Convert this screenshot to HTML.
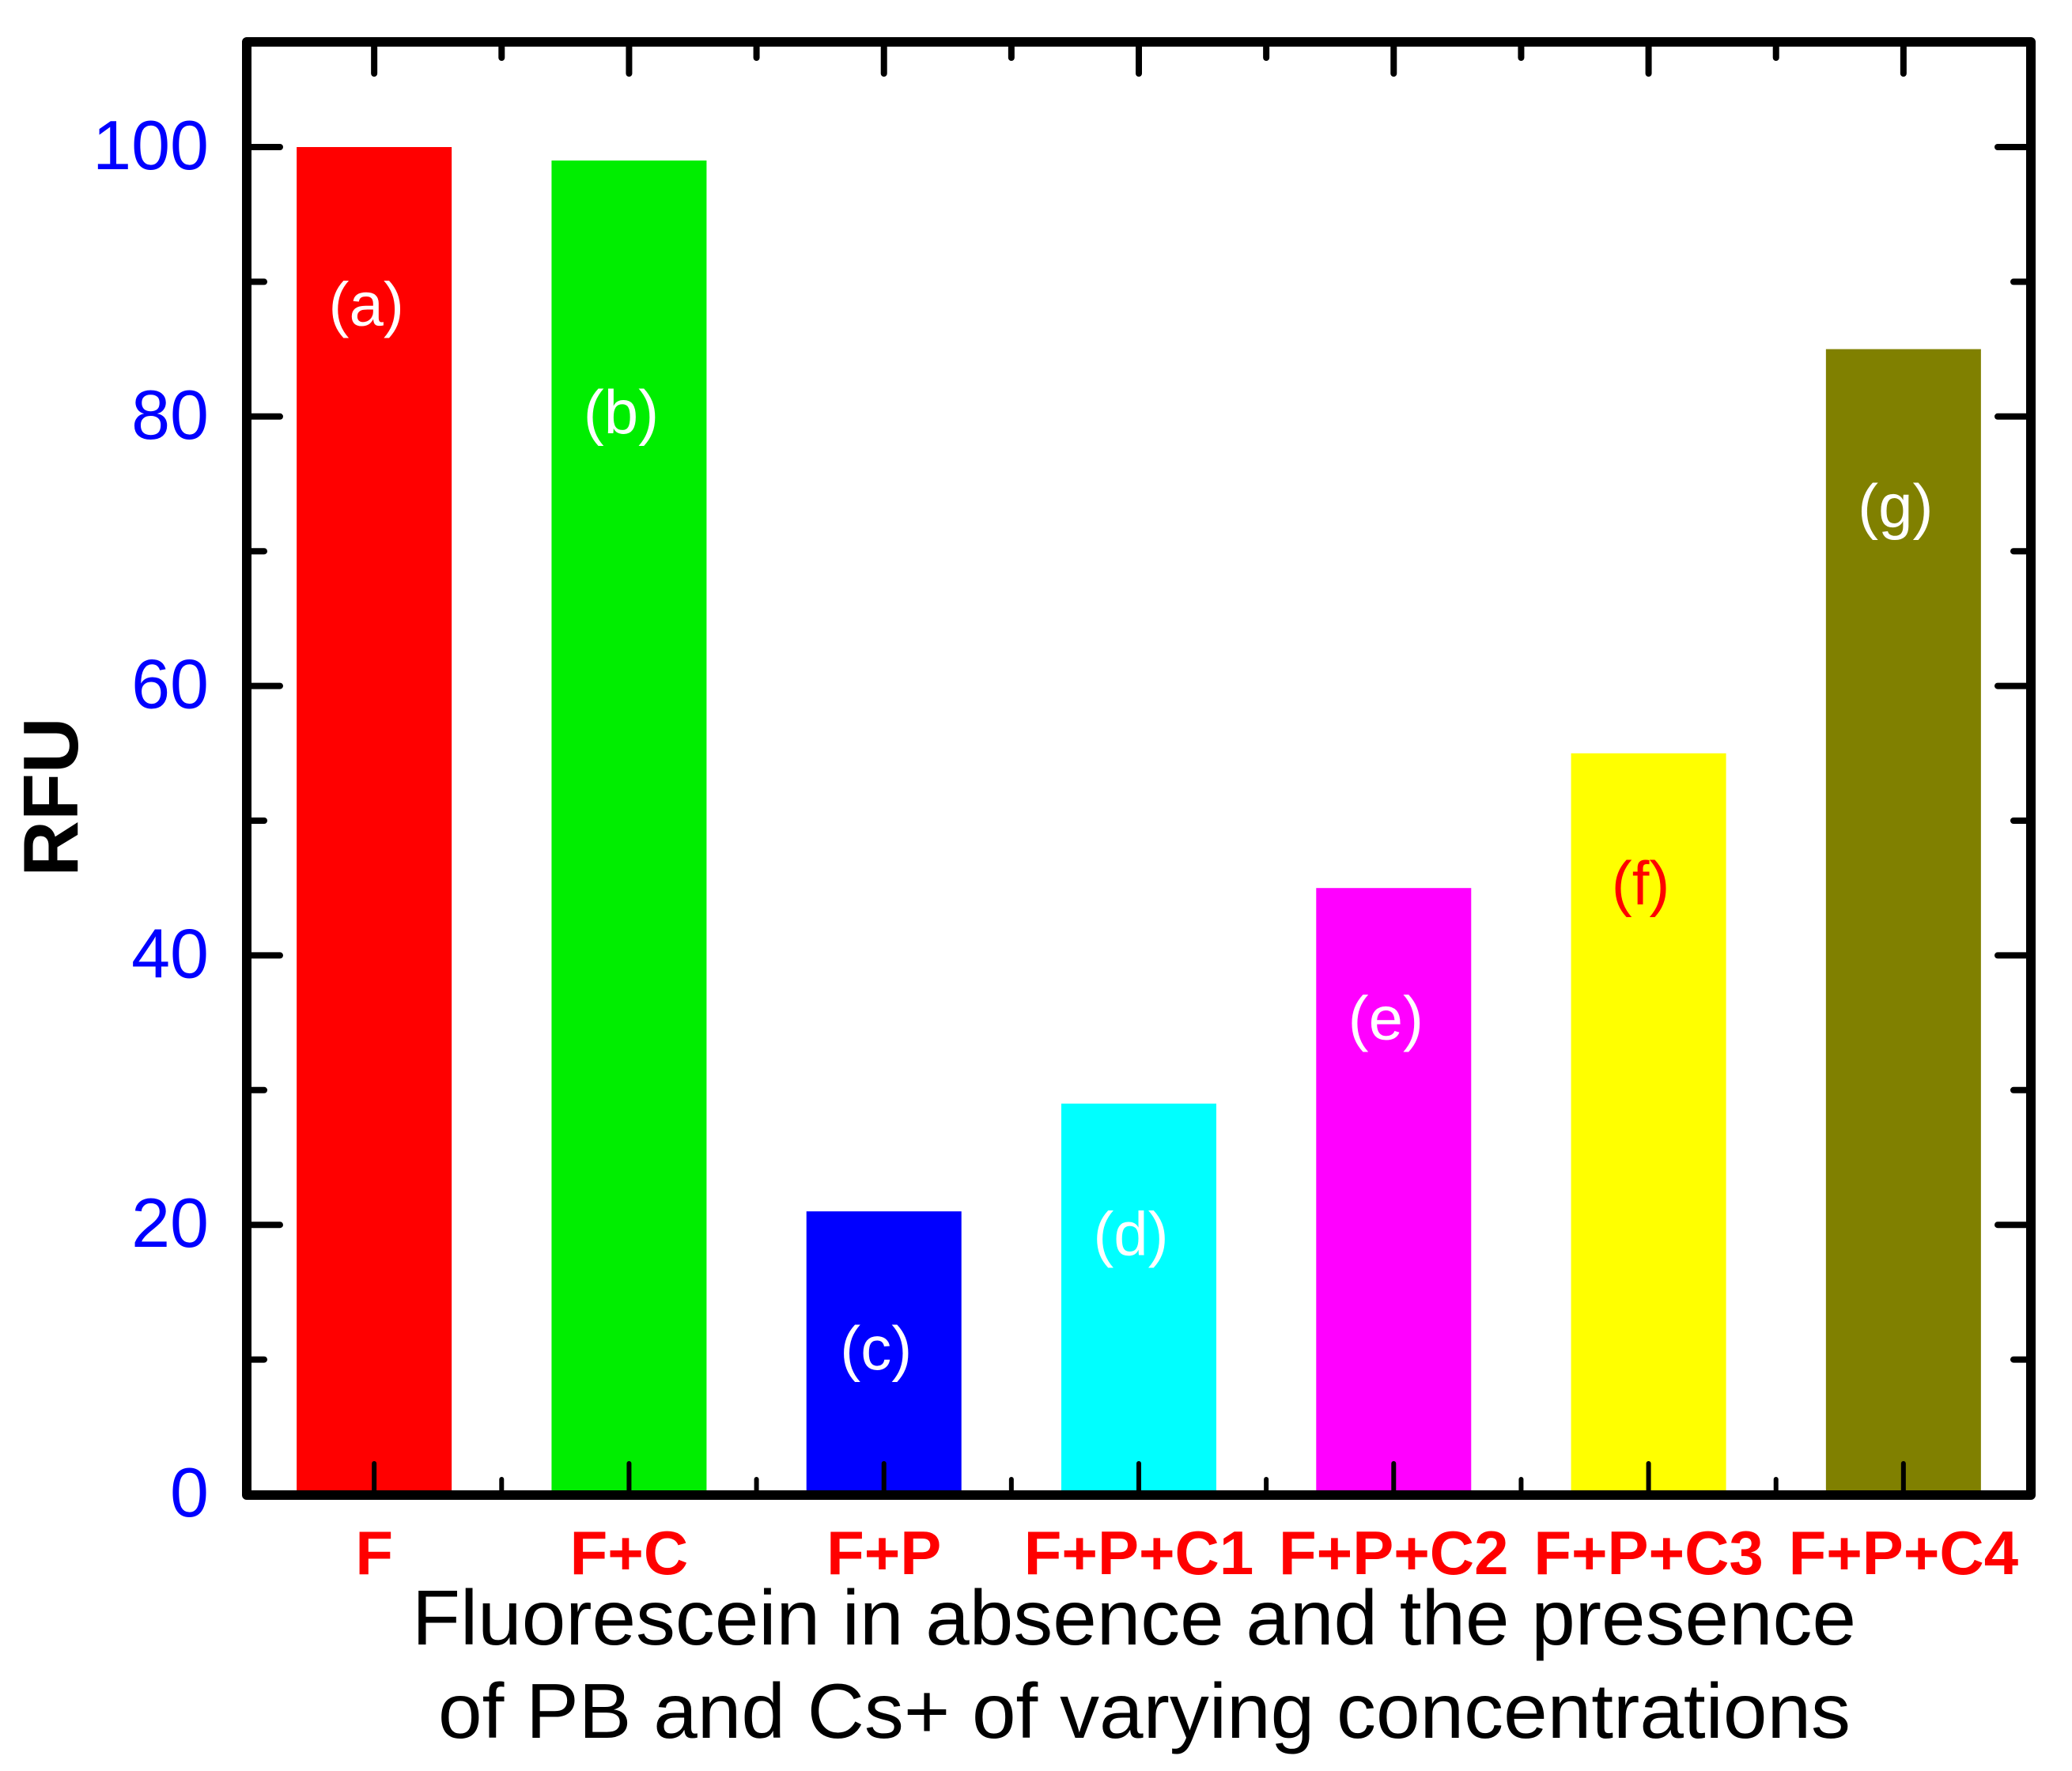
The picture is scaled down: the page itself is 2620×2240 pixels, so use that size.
<!DOCTYPE html>
<html><head><meta charset="utf-8"><style>
html,body{margin:0;padding:0;background:#fff;}
svg{display:block;}
</style></head><body>
<svg id="chart" width="2620" height="2240" viewBox="0 0 2620 2240" xmlns="http://www.w3.org/2000/svg">
<g id="bars"></g>
<g id="labels"></g>
<g id="axes"></g>
<text x="0" y="0" transform="translate(98,1008) rotate(-90)" text-anchor="middle" font-family="Liberation Sans, sans-serif" font-weight="bold" font-size="98" fill="#000">RFU</text>
<text x="1434" y="2080" text-anchor="middle" textLength="1826" lengthAdjust="spacingAndGlyphs" font-family="Liberation Sans, sans-serif" font-size="98" fill="#000">Fluorescein in absence and the presence</text>
<text x="1447" y="2198" text-anchor="middle" textLength="1786" lengthAdjust="spacingAndGlyphs" font-family="Liberation Sans, sans-serif" font-size="98" fill="#000">of PB and Cs+ of varying concentrations</text>
</svg>
<script>
const categories = ["F","F+C","F+P","F+P+C1","F+P+C2","F+P+C3","F+P+C4"];
const values = [100, 99, 21, 29, 45, 55, 85];
const barTags = ["(a)","(b)","(c)","(d)","(e)","(f)","(g)"];
const tagValues = [87, 79, 9.5, 18, 34, 44, 72];
const colors = ["#ff0000","#00ee00","#0000ff","#00ffff","#ff00ff","#ffff00","#808000"];
const tagColors = ["#fff","#fff","#fff","#fff","#fff","#ff0000","#fff"];
const yTicks = [0,20,40,60,80,100];

const NS = "http://www.w3.org/2000/svg";
const L = 312, R = 2568, T = 53, B = 1891;
const y0 = 1890, yPer = 17.04;
const step = (R - L) / categories.length;
const barW = 196;
function xS(i){ return L + (i + 0.5) * step; }
function yS(v){ return y0 - v * yPer; }
function mk(tag, attrs, parent){
  const e = document.createElementNS(NS, tag);
  for (const k in attrs) e.setAttribute(k, attrs[k]);
  parent.appendChild(e); return e;
}
const gb = document.getElementById('bars');
const gl = document.getElementById('labels');
const ga = document.getElementById('axes');
categories.forEach((c, i) => {
  const r = mk('rect', {x: xS(i) - barW/2, y: yS(values[i]), width: barW, height: yS(0) - yS(values[i]), fill: colors[i]}, gb);
  
  
  const t = mk('text', {x: xS(i) - 10, y: yS(tagValues[i]) + 4, 'text-anchor': 'middle', 'font-family': 'Liberation Sans, sans-serif', 'font-size': '78', fill: tagColors[i]}, gl);
  t.textContent = barTags[i];
  
  
  const cl = mk('text', {x: xS(i), y: 1991, 'text-anchor': 'middle', 'font-family': 'Liberation Sans, sans-serif', 'font-weight': 'bold', 'font-size': '78', fill: '#ff0000'}, ga);
  cl.textContent = c;
  
  
  mk('line', {x1: xS(i), x2: xS(i), y1: T, y2: T + 40, stroke: '#000', 'stroke-width': 8, 'stroke-linecap': 'round'}, ga);
  mk('line', {x1: xS(i), x2: xS(i), y1: B, y2: B - 40, stroke: '#000', 'stroke-width': 6, 'stroke-linecap': 'round'}, ga);
  if (i < categories.length - 1) {
    const xm = L + (i + 1) * step;
    mk('line', {x1: xm, x2: xm, y1: T, y2: T + 20, stroke: '#000', 'stroke-width': 8, 'stroke-linecap': 'round'}, ga);
    mk('line', {x1: xm, x2: xm, y1: B, y2: B - 20, stroke: '#000', 'stroke-width': 6, 'stroke-linecap': 'round'}, ga);
  }
});
yTicks.forEach(v => {
  const y = yS(v);
  const t = mk('text', {x: 264, y: y + 28, 'text-anchor': 'end', 'font-family': 'Liberation Sans, sans-serif', 'font-size': '88', fill: '#0000ff'}, ga);
  t.textContent = v;
  
  
  if (v > 0) {
    mk('line', {x1: L, x2: L + 42, y1: y, y2: y, stroke: '#000', 'stroke-width': 8, 'stroke-linecap': 'round'}, ga);
    mk('line', {x1: R, x2: R - 42, y1: y, y2: y, stroke: '#000', 'stroke-width': 8, 'stroke-linecap': 'round'}, ga);
  }
  const ym = yS(v + 10);
  if (ym > T + 10) {
    mk('line', {x1: L, x2: L + 22, y1: ym, y2: ym, stroke: '#000', 'stroke-width': 8, 'stroke-linecap': 'round'}, ga);
    mk('line', {x1: R, x2: R - 22, y1: ym, y2: ym, stroke: '#000', 'stroke-width': 8, 'stroke-linecap': 'round'}, ga);
  }
});
const frame = mk('rect', {x: L, y: T, width: R - L, height: B - T, fill: 'none', stroke: '#000', 'stroke-width': 12, 'stroke-linejoin': 'round'}, ga);


</script>
</body></html>
